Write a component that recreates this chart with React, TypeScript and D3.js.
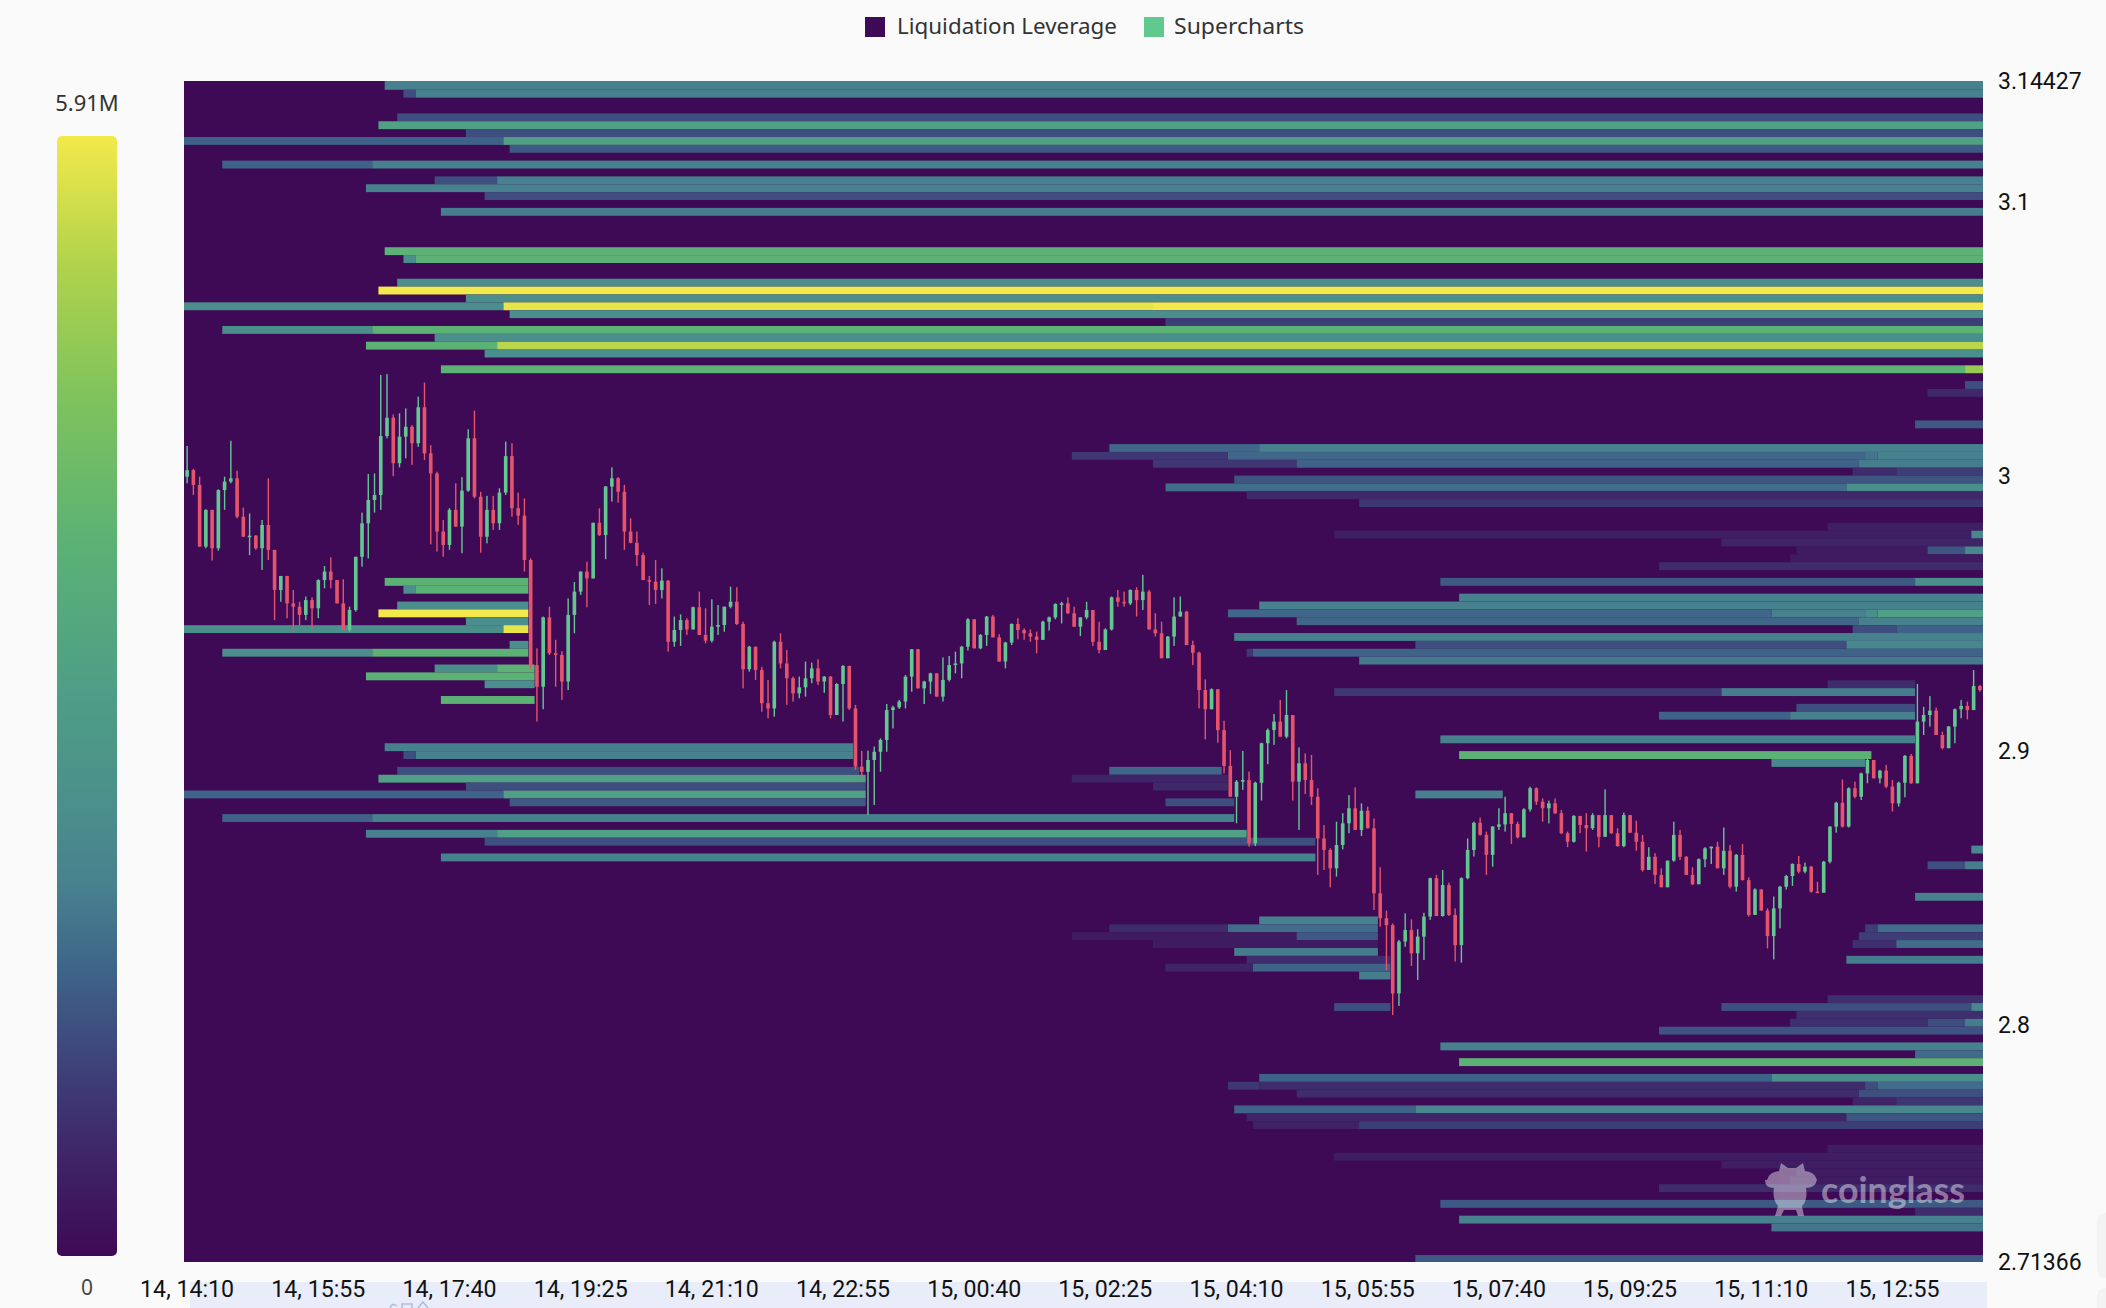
import React from "react";
import * as d3 from "d3";

const W = 2106;
const H = 1308;
const PRICE_UNIT = 1e-4; // candle arrays are in ten-thousandths of a dollar
const FIRST_OPEN = 30000;
const yMin = 2.71366;
const yMax = 3.14427;
const rowCount = 150;
const candleCount = 288;
const maxLiq = 5.91;

const legendItems = ["Liquidation Leverage", "Supercharts"];
const xTickLabels = ["14, 14:10","14, 15:55","14, 17:40","14, 19:25","14, 21:10","14, 22:55","15, 00:40","15, 02:25","15, 04:10","15, 05:55","15, 07:40","15, 09:25","15, 11:10","15, 12:55"];
const xTickEvery = 21;
const yTickValues = [3.14427, 3.1, 3, 2.9, 2.8, 2.71366];
const yTickLabels = ["3.14427", "3.1", "3", "2.9", "2.8", "2.71366"];

const closes = [
30024,29970,29745,29879,29739,29951,29982,29994,29854,29781,
29785,29739,29824,29733,29587,29638,29538,29526,29496,29550,
29520,29623,29654,29623,29538,29441,29514,29708,29830,29915,
29933,30148,30215,30049,30146,30182,30122,30253,30085,30012,
29800,29751,29879,29818,29949,30140,29927,29781,29879,29830,
29942,30075,29885,29858,29696,29313,29234,29487,29356,29350,
29253,29496,29581,29654,29629,29832,29787,29964,29994,29945,
29800,29759,29714,29623,29617,29587,29621,29398,29441,29477,
29443,29524,29423,29402,29453,29459,29526,29544,29463,29298,
29380,29295,29174,29155,29398,29319,29265,29210,29232,29265,
29301,29253,29271,29131,29244,29310,29155,28943,
28924,28967,28997,29040,29149,29159,29180,29271,29371,29228,
29253,29283,29198,29259,29313,29319,29380,29480,29374,29423,
29490,29414,29326,29395,29463,29441,29429,29417,29405,29471,
29487,29536,29538,29502,29453,29487,29514,29398,29368,29443,
29560,29544,29538,29587,29550,29581,29443,29429,29338,29417,
29490,29508,29386,29358,29222,29152,29225,29076,28945,28833,
28888,28894,28663,28884,29028,29076,29107,29052,29131,28888,
28955,28894,28833,28681,28639,28572,28657,28736,28791,28712,
28782,28718,28481,28390,28365,28116,28305,28347,28262,28323,
28396,28536,28398,28511,28402,28292,28536,28639,28738,28694,
28621,28724,28732,28773,28734,28685,28787,28864,28815,28791,
28809,28773,28700,28669,28763,28730,28718,28766,28687,28766,
28700,28653,28766,28702,28669,28566,28614,28548,28503,28600,
28694,28614,28548,28514,28605,28645,28651,28572,28636,28505,
28621,28529,28402,28495,28418,28325,28426,28505,28544,28588,
28560,28578,28487,28483,28596,28724,28811,28724,28864,28833,
28918,28967,28900,28928,28870,28809,28884,28982,28882,29107,
29131,29147,29058,29010,29089,29152,29164,29149,29237,29222];

const highs = [
30112,30028,30000,29881,29869,29954,30000,30131,30022,29887,
29866,29787,29842,29994,29733,29638,29638,29587,29544,29563,
29560,29626,29674,29706,29621,29626,29526,29708,29869,30010,
30012,30371,30374,30227,30231,30249,30188,30292,30343,30115,
30018,29842,29885,29976,29998,30173,30241,29945,29930,29930,
29958,30128,30122,29942,29921,29702,29374,29490,29526,29405,
29364,29556,29616,29654,29690,29832,29885,29966,30034,29998,
29970,29848,29800,29723,29638,29696,29666,29623,29490,29498,
29484,29526,29581,29520,29553,29532,29526,29599,29597,29471,
29383,29378,29307,29259,29402,29429,29368,29271,29271,29326,
29322,29334,29273,29273,29247,29313,29310,29168,
29000,29001,29016,29046,29171,29165,29186,29277,29371,29371,
29256,29285,29281,29341,29346,29362,29383,29484,29475,29426,
29492,29496,29426,29398,29465,29484,29447,29443,29435,29475,
29490,29538,29544,29560,29526,29487,29544,29511,29471,29447,
29563,29587,29581,29589,29597,29642,29587,29502,29471,29419,
29560,29563,29511,29402,29362,29261,29228,29200,29110,29003,
28894,29000,28925,28888,29030,29082,29135,29186,29222,29131,
29013,28991,28985,28864,28730,28645,28742,28773,28839,28867,
28809,28797,28754,28576,28418,28371,28311,28408,28386,28350,
28410,28538,28548,28566,28520,28426,28539,28681,28742,28757,
28706,28726,28791,28833,28773,28742,28791,28870,28867,28827,
28819,28827,28785,28706,28766,28760,28773,28773,28766,28860,
28766,28718,28775,28766,28746,28694,28649,28627,28572,28600,
28742,28712,28617,28576,28608,28649,28649,28669,28721,28657,
28624,28661,28539,28499,28495,28426,28469,28508,28548,28590,
28617,28593,28581,28523,28599,28726,28815,28896,28867,28888,
28921,28973,28965,28931,28949,28894,28888,28985,28989,29244,
29161,29200,29158,29070,29091,29155,29186,29180,29295,29240];

const lows = [
29976,29933,29745,29739,29694,29730,29879,29976,29848,29781,
29714,29733,29660,29696,29477,29544,29484,29431,29459,29477,
29447,29484,29593,29593,29538,29441,29435,29508,29672,29702,
29869,29879,30140,30002,30034,30067,30043,30109,30061,29753,
29727,29708,29733,29818,29721,29945,29921,29723,29757,29806,
29806,29933,29854,29824,29654,29298,29107,29152,29350,29234,
29186,29222,29429,29569,29524,29629,29784,29699,29909,29905,
29733,29757,29674,29623,29532,29536,29556,29362,29380,29383,
29423,29447,29423,29392,29395,29423,29435,29520,29459,29228,
29289,29259,29143,29119,29125,29301,29168,29180,29192,29198,
29247,29240,29212,29119,29131,29107,29149,28931,
28900,28766,28803,28924,28997,29082,29153,29155,29216,29228,
29171,29208,29198,29180,29253,29283,29265,29366,29374,29371,
29383,29414,29326,29301,29386,29407,29405,29398,29356,29405,
29439,29480,29465,29499,29453,29419,29480,29383,29356,29371,
29439,29526,29526,29532,29490,29514,29443,29417,29338,29338,
29383,29490,29386,29313,29155,29042,29152,29030,28918,28833,
28736,28858,28651,28653,28819,28952,29022,29052,29046,28819,
28712,28843,28803,28548,28566,28503,28542,28641,28700,28712,
28690,28718,28420,28359,28201,28037,28070,28286,28216,28165,
28238,28384,28398,28396,28398,28232,28228,28532,28615,28691,
28548,28578,28712,28706,28661,28681,28685,28779,28803,28742,
28736,28770,28697,28649,28666,28700,28633,28712,28649,28694,
28697,28651,28649,28702,28636,28560,28566,28515,28503,28503,
28596,28602,28548,28511,28514,28576,28588,28572,28548,28499,
28487,28527,28396,28408,28418,28280,28240,28353,28495,28508,
28554,28554,28483,28483,28499,28590,28702,28721,28721,28827,
28821,28882,28900,28882,28864,28779,28797,28831,28880,28884,
29058,29089,29058,29006,29013,29028,29119,29115,29149,29216];

// [price row from the top, first candle, last candle (exclusive), liquidation leverage in millions]
const liquidationBands: [number, number, number, number][] = [
[0,32,288,1.95],[1,35,37,1.18],[1,37,288,1.95],[4,34,288,1.18],[5,31,288,3.07],[6,45,288,1.18],
[7,0,51,1.48],[7,51,288,3.07],[8,52,288,1.36],[10,6,30,1.48],[10,30,288,1.95],[12,40,50,1.18],[12,50,288,1.95],
[13,29,288,1.95],[14,48,288,1.18],[16,41,288,1.89],[21,32,288,3.78],[22,35,37,2.36],[22,37,288,3.78],
[25,34,288,2.36],[26,31,288,5.91],[27,45,288,2.36],[28,0,51,2.36],[28,51,155,5.79],[28,155,288,5.91],
[29,52,288,2.36],[30,157,288,0.95],[31,6,30,2.36],[31,30,288,3.78],[32,40,288,2.36],[33,29,50,3.78],[33,50,288,5.32],
[34,48,288,2.36],[36,41,285,3.78],[36,285,288,4.9],
[38,285,288,1.18],[39,279,288,0.59],[43,277,288,1.36],
[46,148,172,1.56],[46,172,288,1.95],[47,142,167,0.83],[47,167,269,1.56],[47,269,271,1.77],[47,271,288,1.95],
[48,155,178,0.83],[48,178,268,1.48],[48,268,288,1.89],[49,267,274,0.65],[49,274,288,0.95],[50,168,288,1.27],
[51,157,266,1.65],[51,266,288,2.36],[52,170,288,0.59],[53,188,288,0.83],[56,263,288,0.41],[57,184,286,0.41],[57,286,288,2.13],
[58,246,288,0.53],[59,258,279,0.35],[59,279,285,1.3],[59,285,288,2.13],[60,257,288,0.35],[61,236,288,0.65],
[63,32,55,3.78],[63,201,277,1.36],[63,277,288,2.36],[64,35,37,2.36],[64,37,55,3.78],[65,204,288,1.95],
[66,34,55,2.36],[66,172,288,1.95],[67,31,55,5.91],[67,167,254,1.56],[67,254,269,1.95],[67,269,271,2.36],[67,271,288,3.07],
[68,45,55,2.36],[68,178,268,1.56],[68,268,288,1.95],[69,0,51,2.36],[69,51,55,5.79],[69,267,274,1.18],[69,274,288,1.48],
[70,168,288,1.95],[71,52,55,2.36],[71,197,266,1.18],[71,266,288,2.13],[72,6,30,2.36],[72,30,55,3.78],[72,170,171,0.83],[72,171,288,1.48],
[73,188,288,1.85],[74,40,50,2.36],[74,50,56,3.78],[75,29,56,3.78],[76,48,56,2.36],[76,263,277,0.65],
[77,184,246,0.83],[77,246,277,1.89],[78,41,56,3.78],[79,258,277,1.18],[80,236,257,1.48],[80,257,277,1.95],
[83,201,277,1.95],[85,204,270,3.78],[86,254,269,2.13],[90,197,211,1.95],[97,286,288,2.13],
[99,279,285,1.18],[99,285,288,1.89],[103,277,288,1.95],[107,269,271,0.95],[107,271,288,1.65],[108,268,288,0.95],
[109,267,274,0.71],[109,274,288,1.65],[111,266,288,1.89],
[84,32,107,1.95],[85,35,37,1.18],[85,37,107,1.95],[87,34,108,1.18],[88,31,109,3.07],[89,45,109,1.18],
[90,0,51,1.48],[90,51,109,3.07],[91,52,109,1.36],[93,6,30,1.48],[93,30,168,1.95],[95,29,50,1.95],[95,50,170,3.07],
[96,48,181,1.18],[98,41,181,1.95],
[87,148,166,1.56],[88,142,167,0.5],[89,155,167,0.6],[91,157,168,1.18],
[106,172,191,1.95],[107,148,167,0.65],[107,167,191,1.65],[108,142,178,0.35],[108,178,191,1.36],[109,155,191,0.35],
[110,168,191,1.89],[111,170,193,0.65],[112,157,171,0.53],[112,171,193,1.48],[113,188,193,1.89],[117,184,193,1.18],
[116,263,288,0.71],[117,246,286,1.18],[117,286,288,2.13],[118,258,288,0.71],[119,257,279,0.71],[119,279,285,1.18],[119,285,288,1.89],
[120,236,288,1.25],[122,201,288,1.95],[123,277,288,1.6],[124,204,288,3.78],[126,172,254,1.48],[126,254,288,2.36],
[127,167,172,0.83],[127,172,269,0.65],[127,269,271,1.2],[127,271,288,1.65],[128,178,268,0.65],[128,268,288,1.18],
[129,267,274,0.53],[129,274,288,0.83],[130,168,197,1.48],[130,197,288,2.13],[131,170,266,0.53],[131,266,288,1.27],
[132,171,188,0.47],[132,188,288,0.95],[135,263,288,0.4],[136,184,288,0.4],[137,246,288,0.4],[138,258,288,0.35],
[139,257,288,0.35],[140,236,288,0.65],[142,201,288,1.36],[143,277,288,0.65],[144,204,288,1.95],[145,254,288,1.77],[149,197,288,1.36],
];

const rampStops = [0, 0.08, 0.15, 0.25, 0.33, 0.4, 0.52, 0.64, 0.76, 0.88, 1];
const rampColors = ["#3e0a56", "#3f2266", "#3e3a75", "#3e6288", "#47818e", "#4a8f8b", "#50a085", "#5cb274", "#7cc25e", "#aed24c", "#f3e94a"];

const plot = { left: 184, right: 1983, top: 81, bottom: 1262 };
const bar = { x: 57, y: 136, w: 60, h: 1120 };

const FONT = "'Roboto', sans-serif";
const LEGEND_FONT = "'Noto Sans', sans-serif";

export default function App() {
  const x = d3.scaleLinear().domain([0, candleCount]).range([plot.left, plot.right]);
  const y = d3.scaleLinear().domain([yMin, yMax]).range([plot.bottom, plot.top]);
  const row = d3.scaleLinear().domain([0, rowCount]).range([plot.top + 0.9, plot.bottom + 0.9]);
  const color = d3.scaleLinear<string>().domain(rampStops.map((t) => t * maxLiq)).range(rampColors).interpolate(d3.interpolateRgb);
  const step = x(1) - x(0);
  const price = (v: number) => y(v * PRICE_UNIT);
  const bandEdge = (c: number) => (c > 0 && c < candleCount ? x(c) + 0.8 : x(c));
  const bandTop = (r: number) => (r > 0 ? row(r) : plot.top);
  const bandBottom = (r: number) => Math.min(plot.bottom, row(r));

  return (
    <div style={{ position: "fixed", left: 0, top: 0, width: W, height: H, background: "#fafafa", overflow: "hidden" }}>
      <svg width={W} height={H} style={{ display: "block" }}>
        <defs>
          <linearGradient id="liqGrad" x1="0" y1="1" x2="0" y2="0">
            {rampStops.map((t, i) => (
              <stop key={i} offset={t} stopColor={rampColors[i]} />
            ))}
          </linearGradient>
        </defs>

        {/* page furniture */}
        <rect x={190} y={1282} width={1797} height={26} fill="#e9edf9" />
        <path d="M390 1308 q2 -6 7 -2 M402 1308 v-4 h10 v4 M418 1308 l5 -6 l5 6" fill="none" stroke="#aebbe0" strokeWidth={1.5} />
        <rect x={2097} y={1213} width={20} height={65} rx={8} fill="#f3f3f3" />
        <rect x={2097} y={1288} width={20} height={40} rx={8} fill="#f3f3f3" />

        {/* legend */}
        <rect x={865} y={17} width={20} height={20} fill="#3e0a56" />
        <text x={897} y={34} fontFamily={LEGEND_FONT} fontSize={22} fill="#333" textLength={220} lengthAdjust="spacingAndGlyphs">{legendItems[0]}</text>
        <rect x={1144} y={17} width={20} height={20} fill="#5fc98e" />
        <text x={1174} y={34} fontFamily={LEGEND_FONT} fontSize={22} fill="#333" textLength={130} lengthAdjust="spacingAndGlyphs">{legendItems[1]}</text>

        {/* colour scale */}
        <text x={bar.x + bar.w / 2} y={111} textAnchor="middle" fontFamily={LEGEND_FONT} fontSize={22} fill="#333">{d3.format(".2f")(maxLiq)}M</text>
        <rect x={bar.x} y={bar.y} width={bar.w} height={bar.h} rx={5} fill="url(#liqGrad)" />
        <text x={bar.x + bar.w / 2} y={1295} textAnchor="middle" fontFamily={LEGEND_FONT} fontSize={21} fill="#444">0</text>

        {/* heat map */}
        <rect x={plot.left} y={plot.top} width={plot.right - plot.left} height={plot.bottom - plot.top} fill={color(0)} />
        {liquidationBands.map(([r, a, b, v], i) => (
          <rect key={i} x={bandEdge(a)} y={bandTop(r)} width={bandEdge(b) - bandEdge(a)} height={bandBottom(r + 1) - bandTop(r)} fill={color(v)} />
        ))}

        {/* candles */}
        {closes.map((c, i) => {
          const o = i === 0 ? FIRST_OPEN : closes[i - 1];
          const up = c >= o;
          const fill = up ? "#62c890" : "#e5546b";
          const cx = x(i + 0.5);
          const top = price(Math.max(o, c));
          const bodyH = Math.max(1.5, price(Math.min(o, c)) - top);
          const hi = price(Math.max(highs[i], o, c));
          const lo = price(Math.min(lows[i], o, c));
          return (
            <g key={i} fill={fill}>
              <rect x={cx - 0.7} y={hi} width={1.4} height={lo - hi} />
              <rect x={cx - step * 0.29} y={top} width={step * 0.58} height={bodyH} />
            </g>
          );
        })}

        {/* watermark */}
        <g fill="#ffffff" opacity={0.42}>
          <path d="M1767 1180 q2 -8 12 -9 l2 -8 l7 5 h8 l7 -5 l2 8 q10 1 12 9 q-2 8 -11 8 q2 12 -4 18 l2 10 h-6 l-2 -6 h-12 l-3 6 h-6 l3 -10 q-6 -7 -4 -18 q-9 0 -9 -8 z" />
          <text x={1821} y={1203} fontFamily="'Lato', sans-serif" fontWeight={700} fontSize={36} textLength={144} lengthAdjust="spacingAndGlyphs">coinglass</text>
        </g>

        {/* axes */}
        {xTickLabels.map((t, i) => (
          <text key={t} x={x(i * xTickEvery + 0.5)} y={1297} textAnchor="middle" fontFamily={FONT} fontSize={23} fill="#111" textLength={94} lengthAdjust="spacingAndGlyphs">{t}</text>
        ))}
        {yTickValues.map((v, i) => (
          <text key={v} x={1998} y={y(v) + 7.6} fontFamily={FONT} fontSize={23} fill="#111">{yTickLabels[i]}</text>
        ))}
      </svg>
    </div>
  );
}
